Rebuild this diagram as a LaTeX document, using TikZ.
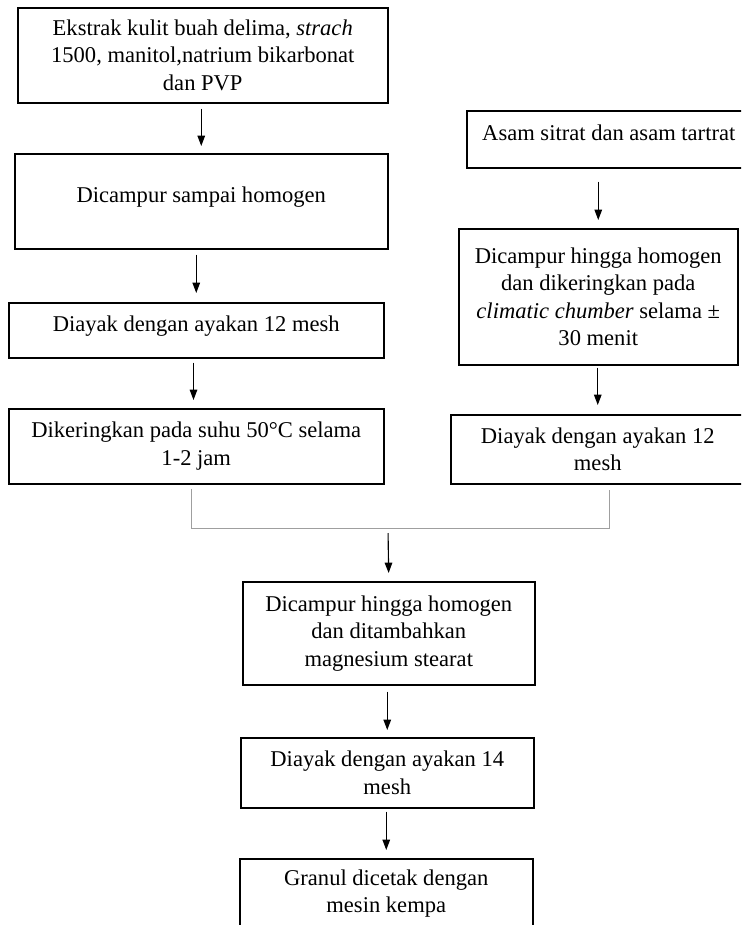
\documentclass[tikz,border=0pt]{standalone}
\usepackage{fontspec}
\setmainfont{Liberation Serif}
\usetikzlibrary{arrows.meta}
\newcommand\pxu{0.532pt}
\begin{document}
\begin{tikzpicture}[x=0.532pt,y=-0.532pt,
  boxnode/.style={draw,line width=0.8pt,rectangle,inner sep=0pt,anchor=north west,
    align=center,font=\fontsize{12pt}{14.6pt}\selectfont},
  arr/.style={line width=0.6pt,-{Triangle[length=5.5pt,width=4pt]},shorten <=5*\pxu,shorten >=7*\pxu},
  merge/.style={line width=0.5pt,draw=gray!75}]
\path[use as bounding box] (0,0) rectangle (741,925);
\clip (0,0) rectangle (741,925);
% left column
\node[boxnode,minimum width=370*\pxu,minimum height=95*\pxu] (b1) at (17,7)
  {Ekstrak kulit buah delima, \textit{strach}\\1500, manitol,natrium bikarbonat\\dan PVP};
\node[boxnode,minimum width=373*\pxu,minimum height=95*\pxu,text depth=7.5pt] (b2) at (14,153)
  {Dicampur sampai homogen};
\node[boxnode,minimum width=375*\pxu,minimum height=55*\pxu,text depth=6.5pt] (b3) at (8,302)
  {Diayak dengan ayakan 12 mesh};
\node[boxnode,minimum width=375*\pxu,minimum height=75*\pxu] (b4) at (8,408)
  {Dikeringkan pada suhu 50°C selama\\1-2 jam};
% right column
\node[boxnode,minimum width=284*\pxu,minimum height=57*\pxu,text depth=7pt] (r1) at (466,110)
  {Asam sitrat dan asam tartrat};
\node[boxnode,minimum width=279*\pxu,minimum height=136*\pxu] (r2) at (458,228)
  {Dicampur hingga homogen\\dan dikeringkan pada\\\textit{climatic chumber} selama ±\\30 menit};
\node[boxnode,minimum width=294*\pxu,minimum height=69*\pxu] (r3) at (450,414)
  {Diayak dengan ayakan 12\\mesh};
% merged column
\node[boxnode,minimum width=292*\pxu,minimum height=103*\pxu] (m1) at (242,581)
  {Dicampur hingga homogen\\dan ditambahkan\\magnesium stearat};
\node[boxnode,minimum width=293*\pxu,minimum height=70*\pxu] (m2) at (240,737)
  {Diayak dengan ayakan 14\\mesh};
\node[boxnode,minimum width=293*\pxu,minimum height=70*\pxu] (m3) at (239,858)
  {Granul dicetak dengan\\mesin kempa};
% connectors
\coordinate (a3) at (193.5,0);
\draw[arr] (b1.south -| b2.north) -- (b2.north);
\draw[arr,shorten >=9*\pxu] (b2.south -| b3.north) -- (b3.north);
\draw[arr,shorten <=4*\pxu,shorten >=8*\pxu] (b3.south -| a3) -- (b4.north -| a3);
\draw[arr,shorten <=13*\pxu,shorten >=8*\pxu] (r1.south -| r2.north) -- (r2.north);
\draw[arr,shorten <=2*\pxu,shorten >=9*\pxu] (r2.south -| r3.north) -- (r3.north);
\coordinate (jl) at (191,528);
\coordinate (jr) at (609,528);
\coordinate (jm) at (388,528);
\draw[merge,shorten <=4*\pxu,shorten >=5*\pxu] (b4.south -| jl) -- (jl) -- (jr) -- (r3.south -| jr);
\draw[arr,shorten >=8*\pxu] (jm) -- (m1.north);
\draw[arr,shorten <=6*\pxu] (m1.south -| m2.north) -- (m2.north);
\draw[arr,shorten <=3*\pxu,shorten >=8*\pxu] (m2.south -| m3.north) -- (m3.north);
\end{tikzpicture}
\end{document}
